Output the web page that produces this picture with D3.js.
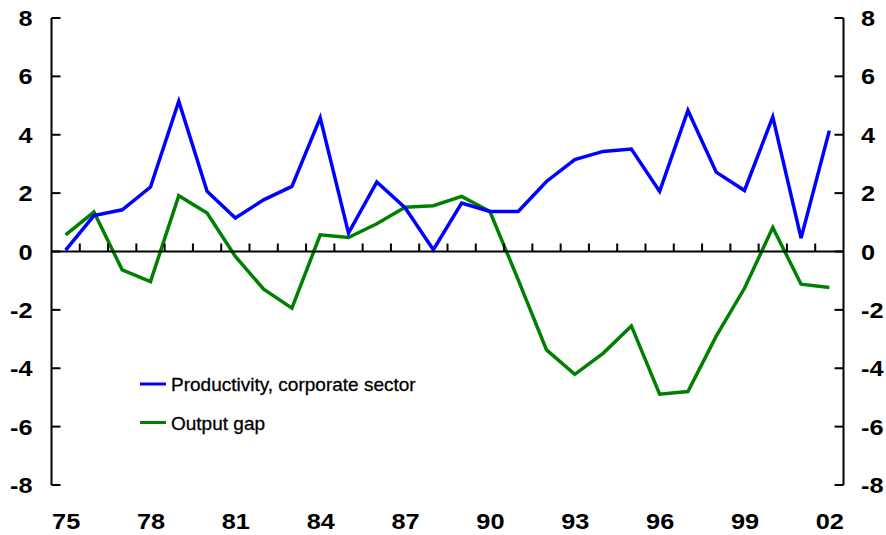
<!DOCTYPE html>
<html>
<head>
<meta charset="utf-8">
<script src="https://cdn.jsdelivr.net/npm/d3@7"></script>
<style>
  body { margin: 0; background: #fff; }
  svg { display: block; }
  text { font-family: "Liberation Sans", Arial, sans-serif; fill: #000; }
</style>
</head>
<body>
<div id="chart"></div>
<script>
// years shown on the x axis (one band per year)
const years = ['75','76','77','78','79','80','81','82','83','84','85','86','87','88',
               '89','90','91','92','93','94','95','96','97','98','99','00','01','02'];
const xLabels = ['75','78','81','84','87','90','93','96','99','02'];
const yTicks = [-8, -6, -4, -2, 0, 2, 4, 6, 8];

// productivity growth, corporate sector
const productivity = [0.05, 1.23, 1.43, 2.21, 5.15, 2.06, 1.15, 1.77, 2.23, 4.58,
                      0.63, 2.38, 1.5, 0.06, 1.66, 1.37, 1.37, 2.4, 3.15, 3.43,
                      3.51, 2.06, 4.83, 2.72, 2.09, 4.61, 0.46, 4.14];
// output gap
const outputGap = [0.57, 1.35, -0.63, -1.03, 1.91, 1.32, -0.17, -1.29, -1.94, 0.57,
                   0.48, 0.95, 1.52, 1.57, 1.89, 1.37, -0.97, -3.37, -4.21, -3.49,
                   -2.55, -4.89, -4.8, -2.9, -1.26, 0.82, -1.12, -1.23];

const W = 886, H = 535;
const plotL = 51.5, plotR = 843.5, plotT = 18, plotB = 485;
const stretch = 1.15; // axis numbers in the original are a bit wide

let svg = d3.select('#chart').append('svg')
	.attr('width', W)
	.attr('height', H);

let x = d3.scaleBand().domain(years).range([plotL, plotR]);
let y = d3.scaleLinear().domain([-8, 8]).range([plotB, plotT]);
let cx = function(d) { return x(d) + x.bandwidth()/2; };

//series lines
let line = d3.line()
	.x(function(d, i) { return cx(years[i]); })
	.y(function(d) { return y(d); });

svg.append('path')
	.attr('d', line(outputGap))
	.attr('fill', 'none')
	.attr('stroke', '#008000')
	.attr('stroke-width', 3.5);

svg.append('path')
	.attr('d', line(productivity))
	.attr('fill', 'none')
	.attr('stroke', '#0000ff')
	.attr('stroke-width', 3.5);

//zero line with ticks between years
let axisG = svg.append('g').attr('stroke', '#000');
axisG.append('line')
	.attr('x1', plotL).attr('x2', plotR)
	.attr('y1', y(0)).attr('y2', y(0))
	.attr('stroke-width', 2);
axisG.selectAll('line.xt')
	.data(years.slice(1))
	.enter().append('line')
	.attr('class', 'xt')
	.attr('x1', function(d) { return x(d); })
	.attr('x2', function(d) { return x(d); })
	.attr('y1', y(0))
	.attr('y2', y(0) - 8)
	.attr('stroke-width', 2);

//left and right axes
[plotL, plotR].forEach(function(ax) {
	let dir = ax === plotL ? 1 : -1;
	axisG.append('line')
		.attr('x1', ax).attr('x2', ax)
		.attr('y1', plotT).attr('y2', plotB)
		.attr('stroke-width', 2);
	axisG.selectAll(null)
		.data(yTicks)
		.enter().append('line')
		.attr('x1', ax)
		.attr('x2', ax + dir*9)
		.attr('y1', function(d) { return y(d); })
		.attr('y2', function(d) { return y(d); })
		.attr('stroke-width', 2);
});

function stretchedText(g, tx, ty, str, anchor, size, weight, sx) {
	return g.append('text')
		.attr('transform', 'translate(' + tx + ',' + ty + ') scale(' + sx + ',1)')
		.attr('text-anchor', anchor)
		.attr('font-size', size)
		.attr('font-weight', weight)
		.text(str);
}

let labels = svg.append('g');
yTicks.forEach(function(d) {
	stretchedText(labels, 32.5, y(d) + 8, d, 'end', 22, 'bold', stretch);
	stretchedText(labels, 861, y(d) + 8, d, 'start', 22, 'bold', stretch);
});
xLabels.forEach(function(d) {
	stretchedText(labels, cx(d) + 0.5, 529, d, 'middle', 22, 'bold', stretch);
});

//legend
let legend = svg.append('g');
let legendItems = [
	{name: 'Productivity, corporate sector', color: '#0000ff', y: 384},
	{name: 'Output gap', color: '#008000', y: 422.5}
];
legendItems.forEach(function(it) {
	legend.append('line')
		.attr('x1', 140).attr('x2', 166)
		.attr('y1', it.y).attr('y2', it.y)
		.attr('stroke', it.color)
		.attr('stroke-width', 3);
	stretchedText(legend, 171, it.y + 7, it.name, 'start', 19, 'normal', 1)
		.attr('stroke', '#000')
		.attr('stroke-width', 0.3);
});
</script>
</body>
</html>
